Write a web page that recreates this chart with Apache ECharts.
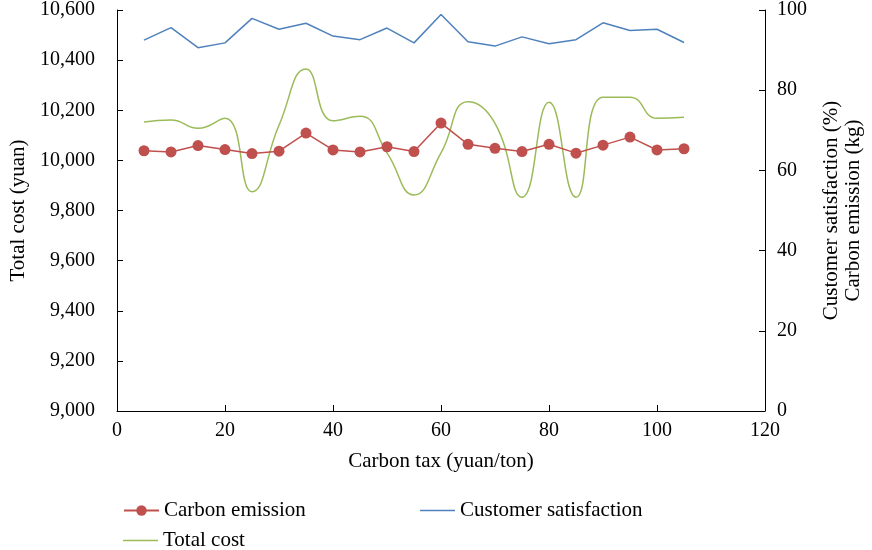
<!DOCTYPE html>
<html>
<head>
<meta charset="utf-8">
<script src="https://cdn.jsdelivr.net/npm/echarts@6/dist/echarts.min.js"></script>
<style>html,body{margin:0;padding:0;background:#fff;}#chart{width:872px;height:550px;}</style>
</head>
<body>
<div id="chart"></div>
<script>
const carbonTax = [5,10,15,20,25,30,35,40,45,50,55,60,65,70,75,80,85,90,95,100,105];
const carbonEmission = [64.9,64.6,66.2,65.2,64.2,64.8,69.3,65.1,64.6,65.9,64.7,71.8,66.5,65.5,64.7,66.5,64.3,66.3,68.3,65.1,65.4];
const customerSatisfaction = [92.5,95.6,90.6,91.8,97.9,95.2,96.7,93.5,92.6,95.5,91.8,98.9,92.1,91.0,93.3,91.6,92.6,96.8,94.9,95.2,91.9];
const totalCost = [10153,10161,10128,10168,9875,10140,10365,10158,10176,10030,9862,10030,10234,10148,9853,10232,9853,10252,10252,10168,10172];

const FONT = 'Liberation Serif';
const pair = arr => carbonTax.map((x, i) => [x, arr[i]]);
const axisCommon = {
  axisLine: {show: true, lineStyle: {color: '#000', width: 1}},
  axisTick: {show: true, inside: true, length: 6, lineStyle: {color: '#000'}},
  splitLine: {show: false},
  axisLabel: {color: '#000', fontFamily: FONT, fontSize: 20},
  nameTextStyle: {color: '#000', fontFamily: FONT, fontSize: 21}
};
const legendText = {fontFamily: FONT, fontSize: 21, color: '#000'};
const chart = echarts.init(document.getElementById('chart'));
chart.setOption({
  animation: false,
  backgroundColor: '#fff',
  grid: {left: 117, right: 102, top: 10, bottom: 139},
  xAxis: Object.assign({}, axisCommon, {
    type: 'value', min: 0, max: 120, interval: 20,
    name: 'Carbon tax (yuan/ton)', nameLocation: 'middle', nameGap: 40,
    axisLabel: Object.assign({}, axisCommon.axisLabel, {margin: 10})
  }),
  yAxis: [
    Object.assign({}, axisCommon, {
      type: 'value', min: 9000, max: 10600, interval: 200, position: 'left',
      name: 'Total cost (yuan)', nameLocation: 'middle', nameGap: 84, nameRotate: 90,
      axisLabel: Object.assign({}, axisCommon.axisLabel, {
        margin: 22,
        formatter: v => v.toLocaleString('en-US')
      })
    }),
    Object.assign({}, axisCommon, {
      type: 'value', min: 0, max: 100, interval: 20, position: 'right',
      name: 'Customer satisfaction (%)\nCarbon emission (kg)', nameLocation: 'middle', nameGap: 55, nameRotate: 90,
      nameTextStyle: Object.assign({}, axisCommon.nameTextStyle, {lineHeight: 22}),
      axisLabel: Object.assign({}, axisCommon.axisLabel, {margin: 12})
    })
  ],
  legend: [
    {data: ['Carbon emission'], left: 118, top: 495, itemWidth: 35, itemHeight: 13, textStyle: legendText},
    {data: [{name: 'Customer satisfaction', icon: 'rect'}], left: 415, top: 495, itemWidth: 35, itemHeight: 1.5,
     textStyle: legendText},
    {data: [{name: 'Total cost', icon: 'rect'}], left: 118, top: 525, itemWidth: 35, itemHeight: 1.5,
     textStyle: legendText}
  ],
  series: [
    {name: 'Carbon emission', type: 'line', yAxisIndex: 1, data: pair(carbonEmission),
     symbol: 'circle', symbolSize: 11, color: '#C0504D',
     lineStyle: {width: 1.5, color: '#C0504D'}, itemStyle: {color: '#C0504D'}, z: 4},
    {name: 'Customer satisfaction', type: 'line', yAxisIndex: 1, data: pair(customerSatisfaction),
     symbol: 'none', color: '#4F81BD', lineStyle: {width: 1.5, color: '#4F81BD'}, z: 3},
    {name: 'Total cost', type: 'line', yAxisIndex: 0, data: pair(totalCost),
     symbol: 'none', smooth: 0.5, color: '#9BBB59', lineStyle: {width: 1.5, color: '#9BBB59'}, z: 2}
  ]
});
</script>
</body>
</html>
